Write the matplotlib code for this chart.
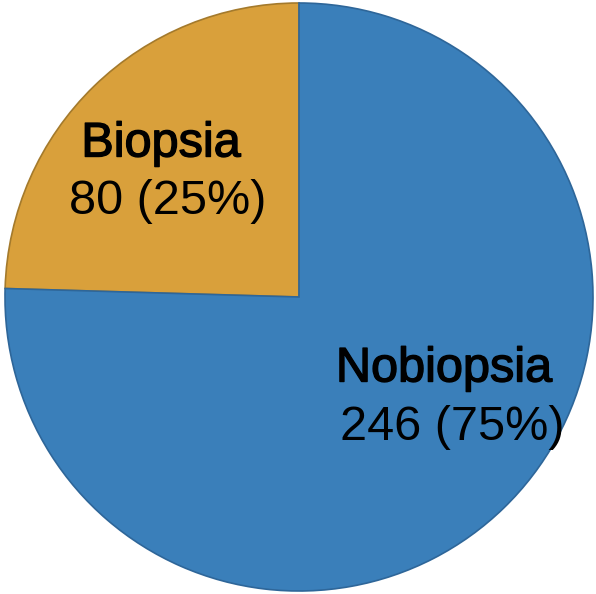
import matplotlib
matplotlib.use("Agg")
import matplotlib.pyplot as plt
import matplotlib.patheffects as pe

categories = ["Biopsia", "Nobiopsia"]
counts = [80, 246]
percents = ["25%", "75%"]

fills = ["#D9A03B", "#3A7FBA"]
edges = ["#A47A2C", "#2E6699"]

W, H = 596, 594
fig = plt.figure(figsize=(W / 100, H / 100), dpi=100)
ax = fig.add_axes([0, 0, 1, 1])

cx, cy, r = 299, H - 297, 294
wedges, _ = ax.pie(counts, colors=fills, startangle=90, counterclock=True,
                   center=(cx, cy), radius=r, frame=True,
                   wedgeprops=dict(linewidth=1.2))
for w, e in zip(wedges, edges):
    w.set_edgecolor(e)
ax.set_xlim(0, W)
ax.set_ylim(0, H)
ax.set_aspect("equal")
ax.axis("off")

bold_fx = [pe.withStroke(linewidth=1.0, foreground="black")]
label_pos = [((161, 144), (168, 202)), ((444, 369), (452, 427))]
for cat, n, p, (p1, p2) in zip(categories, counts, percents, label_pos):
    ax.text(p1[0], H - p1[1], cat, ha="center", va="center",
            fontsize=35, family="Liberation Sans", color="black",
            path_effects=bold_fx)
    ax.text(p2[0], H - p2[1], f"{n} ({p})", ha="center", va="center",
            fontsize=35, family="Liberation Sans", color="black")

fig.savefig("out.png", dpi=100)
